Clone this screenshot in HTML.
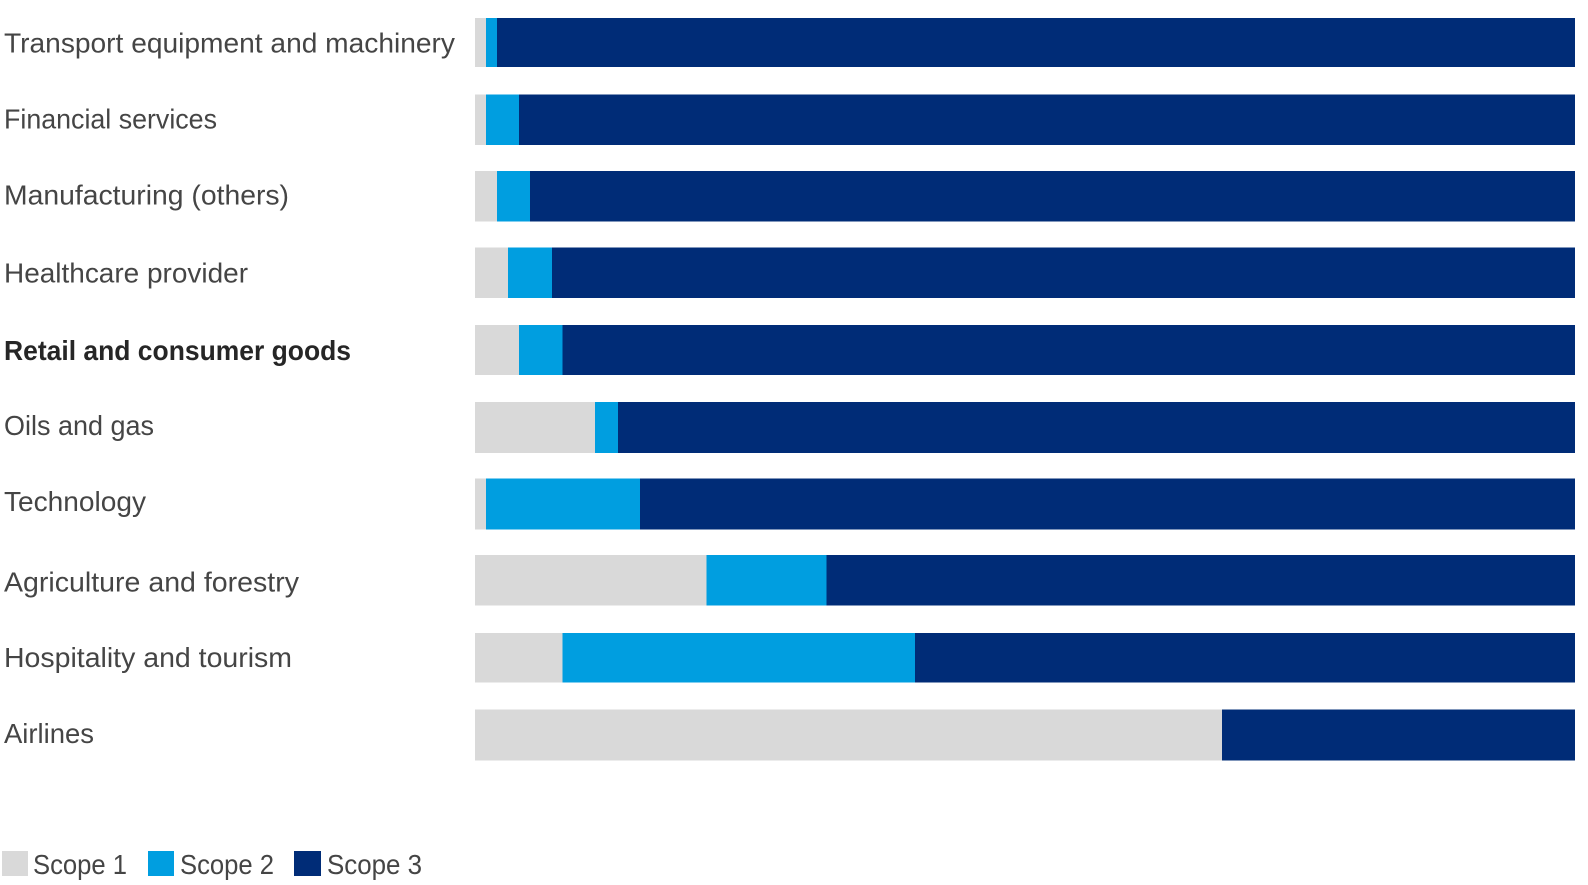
<!DOCTYPE html>
<html>
<head>
<meta charset="utf-8">
<style>
  html, body { margin: 0; padding: 0; background: #ffffff; }
  body { width: 1588px; height: 885px; overflow: hidden; }
  svg { display: block; }
  text { font-family: "Liberation Sans", "DejaVu Sans", sans-serif; font-size: 28px; fill: #454545; }
  .b { font-weight: bold; fill: #262626; }
</style>
</head>
<body>
<svg width="1588" height="885" viewBox="0 0 1588 885" xmlns="http://www.w3.org/2000/svg">
  <!-- Labels -->
  <text x="4" y="52.5" textLength="451" lengthAdjust="spacingAndGlyphs">Transport equipment and machinery</text>
  <text x="4" y="128.5" textLength="213" lengthAdjust="spacingAndGlyphs">Financial services</text>
  <text x="4" y="204.5" textLength="285" lengthAdjust="spacingAndGlyphs">Manufacturing (others)</text>
  <text x="4" y="282.5" textLength="244" lengthAdjust="spacingAndGlyphs">Healthcare provider</text>
  <text class="b" x="4" y="360" textLength="347" lengthAdjust="spacingAndGlyphs">Retail and consumer goods</text>
  <text x="4" y="435" textLength="150" lengthAdjust="spacingAndGlyphs">Oils and gas</text>
  <text x="4" y="511" textLength="142" lengthAdjust="spacingAndGlyphs">Technology</text>
  <text x="4" y="591.5" textLength="295" lengthAdjust="spacingAndGlyphs">Agriculture and forestry</text>
  <text x="4" y="667" textLength="288" lengthAdjust="spacingAndGlyphs">Hospitality and tourism</text>
  <text x="4" y="743" textLength="90" lengthAdjust="spacingAndGlyphs">Airlines</text>

  <!-- Bars: scope1 gray, scope2 blue, scope3 dark -->
  <g>
    <!-- 1 -->
    <rect x="475" y="18" width="11" height="49" fill="#d9d9d9"/>
    <rect x="486" y="18" width="11" height="49" fill="#009ee0"/>
    <rect x="497" y="18" width="1078" height="49" fill="#002c77"/>
    <!-- 2 -->
    <rect x="475" y="94.5" width="11" height="50.5" fill="#d9d9d9"/>
    <rect x="486" y="94.5" width="33" height="50.5" fill="#009ee0"/>
    <rect x="519" y="94.5" width="1056" height="50.5" fill="#002c77"/>
    <!-- 3 -->
    <rect x="475" y="171" width="22" height="50.5" fill="#d9d9d9"/>
    <rect x="497" y="171" width="33" height="50.5" fill="#009ee0"/>
    <rect x="530" y="171" width="1045" height="50.5" fill="#002c77"/>
    <!-- 4 -->
    <rect x="475" y="247.5" width="33" height="50.5" fill="#d9d9d9"/>
    <rect x="508" y="247.5" width="44" height="50.5" fill="#009ee0"/>
    <rect x="552" y="247.5" width="1023" height="50.5" fill="#002c77"/>
    <!-- 5 -->
    <rect x="475" y="325" width="44" height="50" fill="#d9d9d9"/>
    <rect x="519" y="325" width="43.5" height="50" fill="#009ee0"/>
    <rect x="562.5" y="325" width="1012.5" height="50" fill="#002c77"/>
    <!-- 6 -->
    <rect x="475" y="402" width="120" height="51" fill="#d9d9d9"/>
    <rect x="595" y="402" width="23" height="51" fill="#009ee0"/>
    <rect x="618" y="402" width="957" height="51" fill="#002c77"/>
    <!-- 7 -->
    <rect x="475" y="478.5" width="11" height="51" fill="#d9d9d9"/>
    <rect x="486" y="478.5" width="154" height="51" fill="#009ee0"/>
    <rect x="640" y="478.5" width="935" height="51" fill="#002c77"/>
    <!-- 8 -->
    <rect x="475" y="555" width="231.5" height="50.5" fill="#d9d9d9"/>
    <rect x="706.5" y="555" width="120" height="50.5" fill="#009ee0"/>
    <rect x="826.5" y="555" width="748.5" height="50.5" fill="#002c77"/>
    <!-- 9 -->
    <rect x="475" y="633" width="87.5" height="49.5" fill="#d9d9d9"/>
    <rect x="562.5" y="633" width="352.5" height="49.5" fill="#009ee0"/>
    <rect x="915" y="633" width="660" height="49.5" fill="#002c77"/>
    <!-- 10 -->
    <rect x="475" y="709.5" width="747" height="51" fill="#d9d9d9"/>
    <rect x="1222" y="709.5" width="353" height="51" fill="#002c77"/>
  </g>

  <!-- Legend -->
  <rect x="2" y="851" width="26" height="25" fill="#d9d9d9"/>
  <text x="33" y="874" textLength="94" lengthAdjust="spacingAndGlyphs">Scope 1</text>
  <rect x="148" y="851" width="26" height="25" fill="#009ee0"/>
  <text x="180" y="874" textLength="94" lengthAdjust="spacingAndGlyphs">Scope 2</text>
  <rect x="294" y="851" width="27" height="25" fill="#002c77"/>
  <text x="327" y="874" textLength="95" lengthAdjust="spacingAndGlyphs">Scope 3</text>
</svg>
</body>
</html>
